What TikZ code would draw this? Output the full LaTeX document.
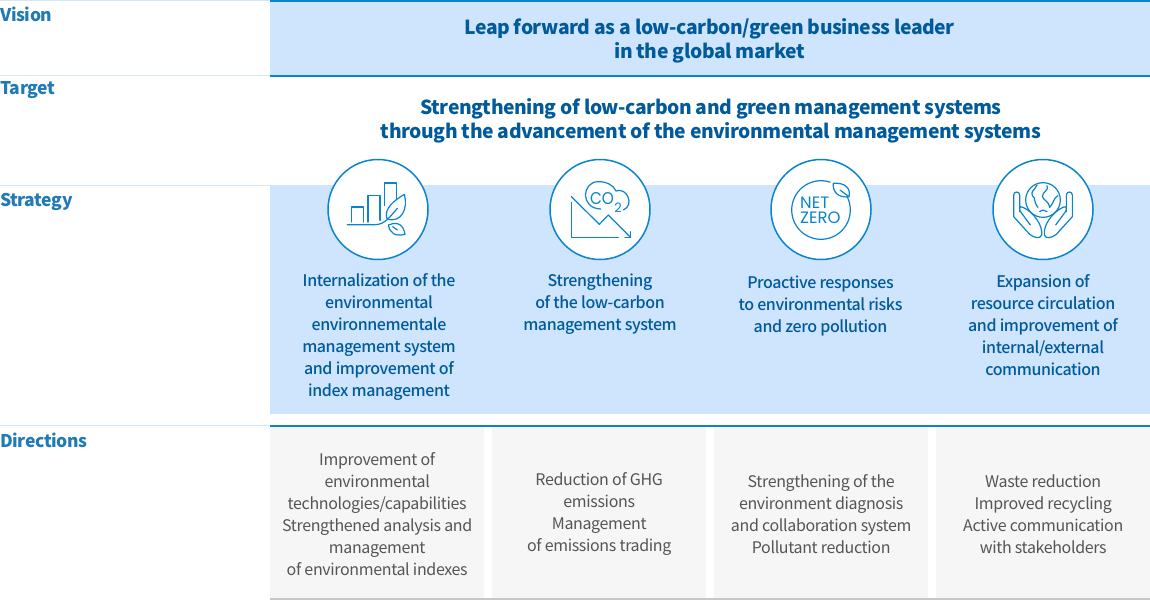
\documentclass[tikz,border=0pt]{standalone}
\usepackage{fontspec}
\setmainfont{Noto Sans CJK KR}[LetterSpace=-2.2]
\newfontfamily\medfont{Noto Sans CJK KR Medium}[LetterSpace=-2.5]
\newfontfamily\iconfont{Poppins}
\usepackage{tikz}
\definecolor{bandblue}{HTML}{CFE5FD}
\definecolor{lineblue}{HTML}{0A84CF}
\definecolor{paleline}{HTML}{D3E7F7}
\definecolor{headblue}{HTML}{1F7AB5}
\definecolor{titleblue}{HTML}{005A9C}
\definecolor{greybox}{HTML}{F6F6F6}
\definecolor{greytext}{HTML}{555555}

\begin{document}
\begin{tikzpicture}[x=1pt,y=-1pt,
    row_label/.style={anchor=north west,inner sep=0pt,text=headblue,font=\bfseries\fontsize{17.5}{22}\selectfont},
    title_text/.style={align=center,inner sep=0pt,text=titleblue,font=\bfseries\fontsize{19.3}{24}\selectfont},
    strategy_text/.style={align=center,inner sep=0pt,text=titleblue,font=\medfont\fontsize{16}{22}\selectfont},
    direction_text/.style={align=center,inner sep=0pt,text=greytext,font=\fontsize{16}{22}\selectfont},
    icon_circle/.style={circle,draw=lineblue,fill=white,line width=1.5pt,minimum size=100pt,inner sep=0pt},
    grey_box/.style={fill=greybox,draw=none,anchor=north west,minimum height=171pt,minimum width=214pt,inner sep=0pt},
    icon_line/.style={draw=lineblue,line width=1.2pt,line join=round,line cap=round},
    icon_text/.style={inner sep=0pt,text=lineblue,font=\iconfont\fontsize{16.5}{16.5}\selectfont}]

    \useasboundingbox (0,0) rectangle (1150,600);

    \fill[bandblue] (270,1) rectangle (1150,76);
    \fill[bandblue] (270,185) rectangle (1150,414);

    \draw[paleline,line width=1pt] (0,0.5) -- (270,0.5);
    \draw[paleline,line width=1pt] (0,75.5) -- (270,75.5);
    \draw[paleline,line width=1pt] (0,185.5) -- (270,185.5);
    \draw[paleline,line width=1pt] (0,425.5) -- (270,425.5);
    \draw[lineblue,line width=2pt] (270,1) -- (1150,1);
    \draw[lineblue,line width=2pt] (270,75.5) -- (1150,75.5);

    \node[row_label] (vision) at (0,7) {Vision};
    \node[row_label] (target) at (0,81) {Target};
    \node[row_label] (strategy) at (0,193) {Strategy};
    \node[row_label] (directions) at (0,433) {Directions};

    \node[title_text] (leap) at (709.5,41) {Leap forward as a low-carbon/green business leader\\in the global market};
    \node[title_text] (strength) at (711,121) {Strengthening of low-carbon and green management systems\\through the advancement of the environmental management systems};

    \node[icon_circle] (c1) at (378,209.5) {};
    \node[icon_circle] (c2) at (600,209.5) {};
    \node[icon_circle] (c3) at (821,209.5) {};
    \node[icon_circle] (c4) at (1043,209.5) {};

    % bars and leaves
    \begin{scope}[shift={(340,175)},scale=1/3]
        \draw[icon_line] (34,141) -- (34,96) -- (70,96) -- (70,141);
        \draw[icon_line] (84,141) -- (84,62) -- (120,62) -- (120,136);
        \draw[icon_line] (134,92) -- (134,24) -- (170,24) -- (170,72);
        \draw[icon_line] (22,149) -- (105,149) .. controls (135,149) and (150,125) .. (172,100);
        \draw[icon_line] (141,132) .. controls (130,100) and (165,75) .. (193,58) .. controls (205,100) and (185,145) .. (141,132);
        \draw[icon_line] (145,150) .. controls (175,138) and (190,150) .. (195,178) .. controls (165,185) and (150,175) .. (145,150);
        \draw[icon_line] (158,155) -- (172,165);
    \end{scope}

    % cloud and falling line
    \begin{scope}[shift={(560,175)},scale=1/3]
        \draw[icon_line] (122,102) .. controls (60,100) and (65,20) .. (115,20) .. controls (140,20) and (160,30) .. (168,48) .. controls (200,35) and (225,90) .. (190,105);
        \draw[icon_line] (34,65) -- (118,148) -- (145,120) -- (212,187);
        \draw[icon_line] (212,170) -- (212,187) -- (195,187);
        \draw[icon_line] (34,82) -- (34,187) -- (175,187);
    \end{scope}
    \node[icon_text,font=\iconfont\fontsize{17}{17}\selectfont,xscale=.9] (co) at (602,198.5) {CO};
    \node[icon_text,font=\iconfont\fontsize{13}{13}\selectfont] (two) at (618,208) {2};

    % net zero
    \draw[icon_line] plot[domain=-27:288,samples=70] ({821+29.3*cos(\x)},{210+29.3*sin(\x)});
    \begin{scope}[shift={(785,175)},scale=1/3]
        \draw[icon_line] (145,25) .. controls (180,22) and (198,40) .. (192,65) .. controls (160,70) and (142,50) .. (145,25);
        \draw[icon_line] (165,45) -- (192,65);
    \end{scope}
    \node[icon_text,anchor=west] (net) at (800,203) {NET};
    \node[icon_text,anchor=west] (zero) at (800,218) {ZERO};

    % globe and hands
    \begin{scope}[shift={(1003,175)},scale=1/3]
        \draw[icon_line] (120,75) circle[radius=52];
        \draw[icon_line] (102,30) .. controls (95,45) and (82,50) .. (88,62) .. controls (100,70) and (90,80) .. (105,97);
        \draw[icon_line] (132,32) .. controls (140,45) and (118,50) .. (118,65) .. controls (125,80) and (135,75) .. (140,97) .. controls (155,80) and (150,70) .. (165,62);
        \draw[icon_line] (110,110) .. controls (118,103) and (125,105) .. (132,110);
    \end{scope}
    \foreach \sx in {1,-1} {
        \begin{scope}[shift={(1043,175)},xscale=\sx/3,yscale=1/3]
            \draw[icon_line] (-70,110) -- (-70,60) .. controls (-70,48) and (-88,48) .. (-88,60) -- (-88,125) -- (-40,178) .. controls (-25,190) and (-8,192) .. (-4,180) .. controls (0,150) and (-30,110) .. (-60,97) .. controls (-72,90) and (-72,105) .. (-66,112) -- (-38,150);
        \end{scope}
    }

    \node[strategy_text] (s1) at (379,337) {Internalization of the\\environmental\\environnementale\\management system\\and improvement of\\index management};
    \node[strategy_text] (s2) at (600,304) {Strengthening\\of the low-carbon\\management system};
    \node[strategy_text] (s3) at (820.5,306) {Proactive responses\\to environmental risks\\and zero pollution};
    \node[strategy_text] (s4) at (1043,325) {Expansion of\\resource circulation\\and improvement of\\internal/external\\communication};

    \node[grey_box] (d1) at (270,427) {};
    \node[grey_box] (d2) at (492,427) {};
    \node[grey_box] (d3) at (714,427) {};
    \node[grey_box] (d4) at (936,427) {};
    \draw[lineblue,line width=2pt] (270,426) -- (1150,426);
    \draw[black!22,line width=2pt] (270,599) -- (1150,599);

    \node[direction_text] (t1) at ([yshift=-1pt]d1.center) {Improvement of\\environmental\\technologies/capabilities\\Strengthened analysis and\\management\\of environmental indexes};
    \node[direction_text] (t2) at ([yshift=-1pt]d2.center) {Reduction of GHG\\emissions\\Management\\of emissions trading};
    \node[direction_text] (t3) at ([yshift=-1pt]d3.center) {Strengthening of the\\environment diagnosis\\and collaboration system\\Pollutant reduction};
    \node[direction_text] (t4) at ([yshift=-2pt]d4.center) {Waste reduction\\Improved recycling\\Active communication\\with stakeholders};

\end{tikzpicture}
\end{document}
